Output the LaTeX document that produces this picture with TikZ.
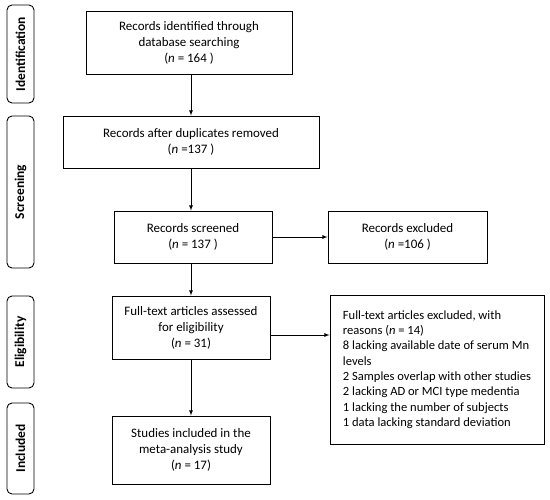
\documentclass[tikz,border=0pt]{standalone}
\usepackage{fontspec}
\setmainfont{Carlito}
\usetikzlibrary{arrows,positioning,calc}
\tikzset{%
	block/.style  = {draw, rectangle, line width=0.9bp, align=center, inner sep=2bp, font=\fontsize{13}{16}\selectfont},
	phase/.style  = {draw, rectangle, rounded corners=5bp, line width=0.9bp, rotate=90, minimum height=27bp, inner sep=1bp, font=\fontsize{13.5}{15}\selectfont\bfseries},
	arrow/.style  = {line width=0.8bp, -latex},
}
\begin{document}
\begin{tikzpicture}[x=1bp, y=1bp]
	\useasboundingbox (0,0) rectangle (550,500);
	% stage labels on the left
	\node[phase, minimum width=98bp] (pid) at (20.5,446) {Identification};
	\node[phase, minimum width=152bp] (psc) at (20.5,308) {Screening};
	\node[phase, minimum width=92bp] (pel) at (20.5,158) {Eligibility};
	\node[phase, minimum width=91bp] (pin) at (20.5,51.5) {Included};
	% main flow
	\node[block, minimum width=206bp, minimum height=63bp] (found) at (189,457.5) {Records identified through\\database searching\\(\textit{n} = 164 )};
	\node[block, minimum width=256bp, minimum height=52bp] (dedup) at (191,358) {Records after duplicates removed\\(\textit{n} =137 )};
	\node[block, minimum width=158bp, minimum height=52bp] (screen) at (193,263) {Records screened\\(\textit{n} = 137 )};
	\node[block, minimum width=159bp, minimum height=52bp] (excl) at (407.5,263) {Records excluded\\(\textit{n} =106 )};
	\node[block, minimum width=158bp, minimum height=63bp] (full) at (191,172.5) {Full-text articles assessed\\for eligibility\\(\textit{n} = 31)};
	\node[block, minimum width=158bp, minimum height=68bp] (incl) at (191,50) {Studies included in the\\meta-analysis study\\(\textit{n} = 17)};
	\node[block, align=left, minimum width=214bp, minimum height=149bp, font=\fontsize{12.6}{15.4}\selectfont] (reasons) at (437,130.5) {Full-text articles excluded, with\\reasons (\textit{n} = 14)\\8 lacking available date of serum Mn\\levels\\2 Samples overlap with other studies\\2 lacking AD or MCI type medentia\\1 lacking the number of subjects\\1 data lacking standard deviation};
	% connectors
	\coordinate (tap) at ([yshift=-7.5bp]full.east);
	\draw[arrow] (found.south -| dedup) -- (dedup.north);
	\draw[arrow] (dedup.south) -- (dedup.south |- screen.north);
	\draw[arrow] (screen.east) -- (excl.west);
	\draw[arrow] (screen.south -| full) -- (full.north);
	\draw[arrow] (tap) -- (tap -| reasons.west);
	\draw[arrow] (full.south) -- (incl.north);
\end{tikzpicture}
\end{document}
